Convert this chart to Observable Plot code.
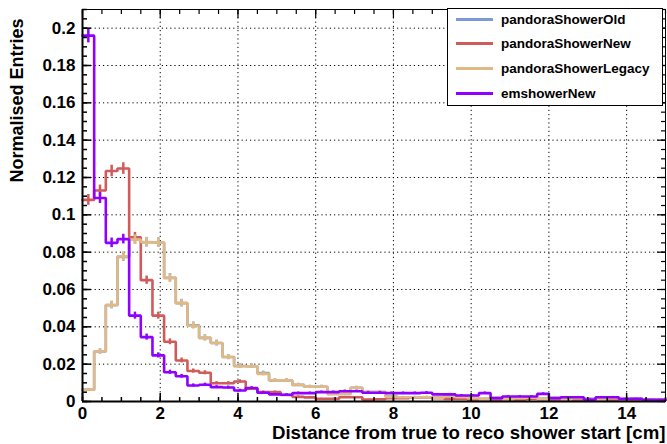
<!DOCTYPE html>
<html>
<head>
<meta charset="utf-8">
<script src="https://cdn.jsdelivr.net/npm/d3@7"></script>
<script src="https://cdn.jsdelivr.net/npm/@observablehq/plot@0.6"></script>
<style>
  html, body { margin: 0; padding: 0; background: #fff; }
  #wrap { position: relative; width: 667px; height: 444px; font-family: "Liberation Sans", Arial, sans-serif; }
  #legend { position: absolute; left: 447px; top: 8px; width: 216px; height: 98px; border: 1px solid #000; background: #fff; box-sizing: border-box; }
  .lg { position: absolute; left: 8px; height: 20px; display: flex; align-items: center; }
  .lg .sw { width: 37px; height: 3px; margin-right: 8px; }
  .lg .tx { font-weight: bold; font-size: 13.5px; color: #000; white-space: nowrap; }
</style>
</head>
<body>
<div id="wrap"></div>
<script>
// ---- data (50 bins of 0.3 cm from 0 to 15 cm) ----
const xMin = 0, xMax = 15, binWidth = 0.3;
const seriesNames = ["pandoraShowerOld", "pandoraShowerNew", "pandoraShowerLegacy", "emshowerNew"];
const seriesColors = ["#7a9bd8", "#cf5b5b", "#e0b985", "#9000ff"];

const pandoraShowerOld = [0.0063, 0.0268, 0.0516, 0.0775, 0.0867, 0.0853, 0.0851, 0.0663, 0.0527, 0.0408,
  0.0341, 0.0313, 0.0238, 0.0190, 0.0189, 0.0152, 0.0113, 0.0113, 0.0089, 0.0079,
  0.0079, 0.0041, 0.0041, 0.0074, 0.0050, 0.0050, 0.0027, 0.0023, 0.0023, 0.0023,
  0.0020, 0.0027, 0.0023, 0.0018, 0.0014, 0.0018, 0.0014, 0.0018, 0.0020, 0.0014,
  0.0018, 0.0014, 0.0018, 0.0014, 0.0014, 0.0018, 0.0012, 0.0014, 0.0010, 0.0012];
const pandoraShowerNew = [0.108, 0.113, 0.1235, 0.1248, 0.088, 0.065, 0.046, 0.032, 0.022, 0.0163,
  0.0154, 0.0098, 0.0098, 0.0107, 0.0068, 0.0050, 0.0050, 0.0035, 0.0025, 0.0022,
  0.0014, 0.0014, 0.0023, 0.0023, 0.0010, 0.0012, 0.0018, 0.0018, 0.0023, 0.0023,
  0.0018, 0.0014, 0.0014, 0.0010, 0.0012, 0.0009, 0.0012, 0.0010, 0.0014, 0.0012,
  0.0010, 0.0012, 0.0009, 0.0010, 0.0012, 0.0008, 0.0010, 0.0009, 0.0008, 0.0007];
const pandoraShowerLegacy = [0.0063, 0.0268, 0.0518, 0.0777, 0.0867, 0.0854, 0.0851, 0.0661, 0.0527, 0.0406,
  0.0341, 0.0313, 0.0238, 0.0189, 0.0189, 0.0148, 0.0113, 0.0113, 0.0089, 0.0079,
  0.0079, 0.0041, 0.0041, 0.0074, 0.0050, 0.0050, 0.0025, 0.0023, 0.0023, 0.0023,
  0.0020, 0.0027, 0.0023, 0.0018, 0.0014, 0.0018, 0.0014, 0.0018, 0.0020, 0.0014,
  0.0018, 0.0014, 0.0018, 0.0014, 0.0014, 0.0018, 0.0012, 0.0014, 0.0010, 0.0012];
const emshowerNew = [0.196, 0.109, 0.085, 0.087, 0.046, 0.0345, 0.0247, 0.0157, 0.0135, 0.0086,
  0.0090, 0.0077, 0.0075, 0.0059, 0.0072, 0.0047, 0.0038, 0.0036, 0.0045, 0.0045,
  0.0050, 0.0050, 0.0055, 0.0055, 0.0047, 0.0047, 0.0045, 0.0045, 0.0045, 0.0047,
  0.0038, 0.0038, 0.0032, 0.0032, 0.0045, 0.0018, 0.0027, 0.0027, 0.0027, 0.0041,
  0.0018, 0.0023, 0.0023, 0.0010, 0.0023, 0.0023, 0.0014, 0.0014, 0.0009, 0.0009];
const seriesValues = [pandoraShowerOld, pandoraShowerNew, pandoraShowerLegacy, emshowerNew];
const effectiveEntries = 13000; // for Poisson-like error bars

const xTickValues = [0, 2, 4, 6, 8, 10, 12, 14];
const xTickLabels = ["0", "2", "4", "6", "8", "10", "12", "14"];
const yTickValues = [0, 0.02, 0.04, 0.06, 0.08, 0.1, 0.12, 0.14, 0.16, 0.18, 0.2];
const yTickLabels = ["0", "0.02", "0.04", "0.06", "0.08", "0.1", "0.12", "0.14", "0.16", "0.18", "0.2"];
const xMinorValues = d3.range(0, 15.01, 0.5).map(d => +d.toFixed(2));
const yMinorValues = d3.range(0, 0.2101, 0.005).map(d => +d.toFixed(3));
const yMax = 0.21;
const xTitle = "Distance from true to reco shower start [cm]";
const yTitle = "Normalised Entries";

// ---- build tables ----
const stepRows = [], errRows = [];
seriesNames.forEach((name, s) => {
  const vals = seriesValues[s];
  vals.forEach((v, i) => {
    stepRows.push({series: name, x: xMin + i * binWidth, v});
    const e = Math.sqrt(v / effectiveEntries);
    errRows.push({series: name, x: xMin + (i + 0.5) * binWidth, lo: v - e, hi: v + e});
  });
  stepRows.push({series: name, x: xMax, v: vals[vals.length - 1]});
});

const font = "Liberation Sans, Arial, sans-serif";
const lineMarks = [];
seriesNames.forEach((name, s) => {
  lineMarks.push(Plot.ruleX(errRows.filter(d => d.series === name), {x: "x", y1: "lo", y2: "hi", stroke: seriesColors[s], strokeWidth: 2.5}));
  lineMarks.push(Plot.line(stepRows.filter(d => d.series === name), {x: "x", y: "v", curve: "step-after", stroke: seriesColors[s], strokeWidth: 2.6, strokeLinejoin: "miter"}));
});

const fmtX = d => xTickLabels[xTickValues.indexOf(d)];
const fmtY = d => yTickLabels[yTickValues.findIndex(t => Math.abs(t - d) < 1e-9)];
const tk = (size, w) => ({tickSize: size, text: null, label: null, strokeWidth: w});

const chart = Plot.plot({
  width: 667, height: 444,
  marginLeft: 82, marginRight: 2, marginTop: 9, marginBottom: 43,
  style: {fontFamily: font, background: "white", overflow: "visible"},
  x: {domain: [xMin, xMax], label: null},
  y: {domain: [0, yMax], label: null},
  marks: [
    Plot.gridX(xTickValues.slice(1), {stroke: "black", strokeOpacity: 1, strokeDasharray: "1.2,3", strokeWidth: 1}),
    Plot.gridY(yTickValues.slice(1), {stroke: "black", strokeOpacity: 1, strokeDasharray: "1.2,3", strokeWidth: 1}),
    ...lineMarks,
    Plot.frame({stroke: "black", strokeWidth: 1}),
    Plot.ruleX([xMin], {stroke: "black", strokeWidth: 2}),
    Plot.ruleY([0], {stroke: "black", strokeWidth: 2}),
    // inward ticks
    Plot.axisX(xTickValues, {anchor: "bottom", ...tk(-8, 1.5)}),
    Plot.axisX(xMinorValues, {anchor: "bottom", ...tk(-4, 1.5)}),
    Plot.axisX(xTickValues, {anchor: "top", ...tk(-8, 1.2)}),
    Plot.axisX(xMinorValues, {anchor: "top", ...tk(-4, 1.2)}),
    Plot.axisY(yTickValues, {anchor: "left", ...tk(-9, 1.5)}),
    Plot.axisY(yMinorValues, {anchor: "left", ...tk(-5, 1.5)}),
    Plot.axisY(yTickValues, {anchor: "right", ...tk(-9, 1.2)}),
    Plot.axisY(yMinorValues, {anchor: "right", ...tk(-5, 1.2)}),
    // tick labels
    Plot.axisX(xTickValues, {anchor: "bottom", tickSize: 0, tickPadding: 5, tickFormat: fmtX, fontSize: 17, fontWeight: "bold", fill: "black", label: null}),
    Plot.axisY(yTickValues, {anchor: "left", tickSize: 0, tickPadding: 7, tickFormat: fmtY, fontSize: 17, fontWeight: "bold", fill: "black", label: null}),
    // titles
    Plot.text([xTitle], {frameAnchor: "bottom-right", textAnchor: "end", lineAnchor: "bottom", dy: 37, fontSize: 18.7, fontWeight: "bold", fill: "black"}),
    Plot.text([yTitle], {frameAnchor: "top-left", textAnchor: "end", lineAnchor: "middle", rotate: -90, dx: -65, dy: 9, fontSize: 18, fontWeight: "bold", fill: "black"})
  ]
});

const wrap = document.getElementById("wrap");
wrap.appendChild(chart);

// legend
const legend = document.createElement("div");
legend.id = "legend";
const rowTops = [10, 34, 59, 84];
seriesNames.forEach((name, s) => {
  const row = document.createElement("div");
  row.className = "lg";
  row.style.top = (rowTops[s] - 10) + "px";
  const sw = document.createElement("div");
  sw.className = "sw";
  sw.style.background = seriesColors[s];
  const tx = document.createElement("div");
  tx.className = "tx";
  tx.textContent = name;
  row.appendChild(sw); row.appendChild(tx);
  legend.appendChild(row);
});
wrap.appendChild(legend);
</script>
</body>
</html>
